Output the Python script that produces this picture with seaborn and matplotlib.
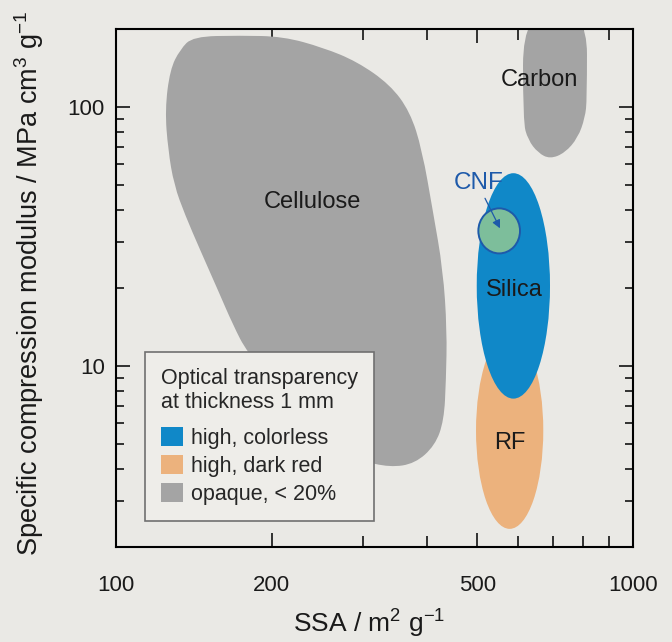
import numpy as np
import matplotlib
matplotlib.use('Agg')
import matplotlib.pyplot as plt
import seaborn as sns
from matplotlib.path import Path
from matplotlib.patches import PathPatch, Ellipse, Patch
from matplotlib.ticker import NullFormatter

# outline of the cellulose region (SSA in m2/g, modulus in MPa cm3/g)
cellulose_ssa = [140.9, 173.7, 210.4, 251.4, 292.6, 338.8, 370.4, 390.8, 410.4, 429.0,
                 436.7, 434.8, 430.9, 414.0, 378.7, 338.8, 296.5, 259.4, 207.6, 179.2,
                 168.4, 157.5, 145.4, 136.0, 129.5, 126.1, 124.4, 127.2, 133.0]
cellulose_mod = [187.1, 188.7, 187.1, 169.6, 149.7, 122.0, 95.9, 68.4, 39.3, 23.5,
                 13.75, 8.81, 6.16, 4.93, 4.20, 4.06, 4.32, 5.16, 8.05, 11.3,
                 14.4, 19.6, 28.1, 38.3, 50.0, 68.4, 97.6, 139.4, 166.6]

# carbon region runs off the top of the plot
carbon_ssa = [612.7, 612.7, 626.5, 655.0, 691.0, 738.6, 782.6, 807.5, 814.7, 814.7]
carbon_mod = [240.0, 87.7, 74.7, 66.5, 63.0, 66.5, 76.1, 90.9, 106.7, 240.0]

# ellipses given as (min, max) ranges
silica_ssa = [498.6, 691.0]
silica_mod = [7.48, 55.5]
rf_ssa = [497.0, 670.6]
rf_mod = [2.35, 13.5]
cnf_ssa = [502.2, 604.6]
cnf_mod = [27.2, 40.6]

region_names = ['Cellulose', 'Carbon', 'Silica', 'RF']
label_ssa = [239.4, 658.6, 589.1, 578.2]
label_mod = [43.1, 127.0, 19.6, 5.04]

cnf_label = (502.2, 50.8)
cnf_arrow_from = (517.3, 44.4)
cnf_arrow_to = (553.0, 34.0)

legend_labels = ['high, colorless', 'high, dark red', 'opaque, < 20%']

blue = '#1088c8'
orange = '#ecb27d'
gray = '#a4a4a4'
green = '#7dbe9b'
cnf_blue = '#1e5aaa'
bg = '#eae9e5'

sns.set_theme(style='ticks')
plt.rcParams['font.family'] = ['Liberation Sans', 'DejaVu Sans']
plt.rcParams['mathtext.fontset'] = 'custom'
plt.rcParams['mathtext.rm'] = 'Liberation Sans'
plt.rcParams['mathtext.it'] = 'Liberation Sans:italic'


def smooth_blob(ssa, mod):
    # quadratic curves through the midpoints (midpoints taken in log space)
    lx = np.log10(ssa)
    ly = np.log10(mod)
    n = len(lx)
    mx = (lx + np.roll(lx, -1)) / 2
    my = (ly + np.roll(ly, -1)) / 2
    verts = [(mx[-1], my[-1])]
    codes = [Path.MOVETO]
    for i in range(n):
        verts += [(lx[i], ly[i]), (mx[i], my[i])]
        codes += [Path.CURVE3, Path.CURVE3]
    verts.append(verts[0])
    codes.append(Path.CLOSEPOLY)
    verts = 10 ** np.array(verts)
    return Path(verts, codes)


def log_ellipse(ax, ssa, mod, **kw):
    lx = np.log10(ssa)
    ly = np.log10(mod)
    e = Ellipse(((lx[0] + lx[1]) / 2, (ly[0] + ly[1]) / 2), lx[1] - lx[0], ly[1] - ly[0],
                transform=ax.transLimits + ax.transAxes, **kw)
    ax.add_patch(e)
    return e


fig = plt.figure(figsize=(6.72, 6.42), dpi=100, facecolor=bg)
ax = fig.add_axes([116 / 672, 1 - 547 / 642, 517 / 672, 518 / 642])
ax.set_facecolor(bg)
ax.set_xscale('log')
ax.set_yscale('log')
ax.set_xlim(100, 1000)
ax.set_ylim(2, 200)

ax.add_patch(PathPatch(smooth_blob(cellulose_ssa, cellulose_mod), facecolor=gray,
                       edgecolor='none', zorder=1))
ax.add_patch(PathPatch(smooth_blob(carbon_ssa, carbon_mod), facecolor=gray,
                       edgecolor='none', zorder=1))
log_ellipse(ax, rf_ssa, rf_mod, facecolor=orange, edgecolor='none', zorder=2)
log_ellipse(ax, silica_ssa, silica_mod, facecolor=blue, edgecolor='none', zorder=3)
log_ellipse(ax, cnf_ssa, cnf_mod, facecolor=green, edgecolor=cnf_blue, lw=1.4, zorder=4)

for name, x, y in zip(region_names, label_ssa, label_mod):
    ax.text(x, y, name, fontsize=17, ha='center', va='center', color='#1a1a1a', zorder=6)

ax.text(cnf_label[0], cnf_label[1], 'CNF', fontsize=17.5, ha='center', va='center',
        color=cnf_blue, zorder=6)
ax.annotate('', xy=cnf_arrow_to, xytext=cnf_arrow_from,
            arrowprops=dict(arrowstyle='-|>', color=cnf_blue, lw=0.9,
                            mutation_scale=12, shrinkA=0, shrinkB=0), zorder=6)

ax.set_xticks([100, 200, 500, 1000])
ax.set_xticklabels(['100', '200', '500', '1000'])
ax.set_xticks([300, 400, 600, 700, 800, 900], minor=True)
ax.set_yticks([10, 100])
ax.set_yticklabels(['10', '100'])
ax.set_yticks([3, 4, 5, 6, 7, 8, 9, 20, 30, 40, 50, 60, 70, 80, 90], minor=True)
ax.xaxis.set_minor_formatter(NullFormatter())
ax.yaxis.set_minor_formatter(NullFormatter())

ax.tick_params(which='both', direction='in', top=True, right=True, width=1.1,
               color='black', labelsize=16, labelcolor='#1a1a1a')
ax.tick_params(which='major', length=10)
ax.tick_params(axis='y', which='minor', length=6)
ax.tick_params(axis='x', which='minor', length=8)
ax.tick_params(axis='x', which='both', pad=20)
ax.tick_params(axis='y', which='both', pad=8)
for sp in ax.spines.values():
    sp.set_linewidth(1.5)
    sp.set_color('black')

ax.set_xlabel(r'SSA / m$^\mathregular{2}$ g$^\mathregular{-1}$', fontsize=19, color='#1a1a1a')
ax.set_ylabel(r'Specific compression modulus / MPa cm$^\mathregular{3}$ g$^\mathregular{-1}$',
              fontsize=19.5, color='#1a1a1a')
ax.xaxis.set_label_coords(0.49, -0.118)
ax.yaxis.set_label_coords(-0.135, 0.51)

handles = [Patch(facecolor=c, edgecolor='none') for c in [blue, orange, gray]]
leg = ax.legend(handles, legend_labels, title='Optical transparency\nat thickness 1 mm',
                loc='upper left', bbox_to_anchor=(0.056, 0.377), borderaxespad=0,
                fontsize=15.5, title_fontsize=15.5, alignment='left', fancybox=False,
                framealpha=1, handlelength=1.0, handleheight=1.0, handletextpad=0.4,
                labelspacing=0.28, borderpad=0.75)
leg.get_title().set_linespacing(1.2)
leg._legend_box.sep = 10
leg.get_frame().set_edgecolor('#707070')
leg.get_frame().set_linewidth(1.2)
leg.get_frame().set_facecolor('#eeede9')
leg.set_zorder(7)

fig.savefig('out.png', dpi=100, facecolor=bg)
